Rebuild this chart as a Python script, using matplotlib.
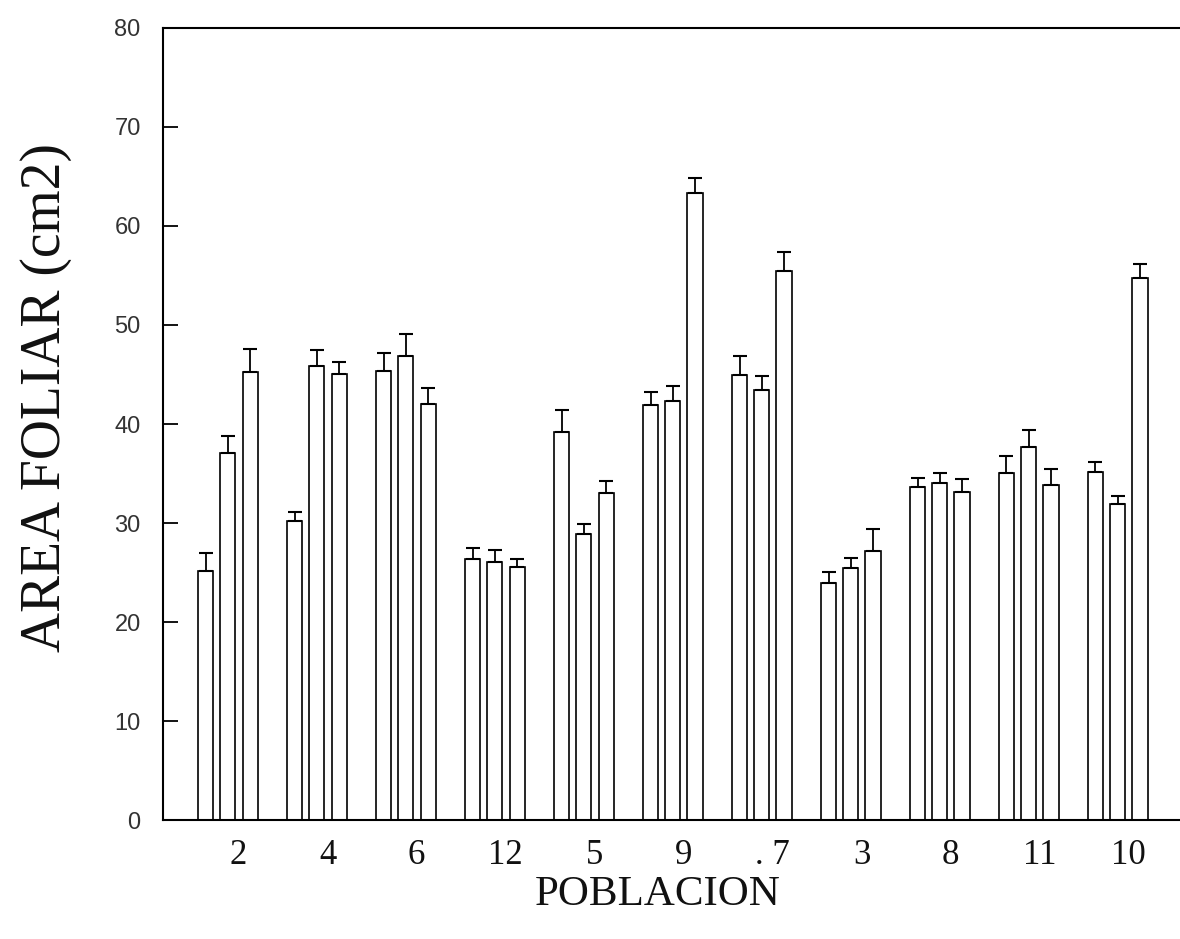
import numpy as np
import matplotlib
matplotlib.use("Agg")
import matplotlib.pyplot as plt

# leaf area per population, three samples each (mean and upper error)
poblacion = ["2", "4", "6", "12", "5", "9", ". 7", "3", "8", "11", "10"]
area_a = [25.2, 30.2, 45.4, 26.4, 39.2, 41.9, 45.0, 23.9, 33.6, 35.1, 35.2]
area_b = [37.1, 45.9, 46.9, 26.1, 28.9, 42.3, 43.4, 25.5, 34.0, 37.7, 31.9]
area_c = [45.3, 45.1, 42.0, 25.6, 33.0, 63.3, 55.5, 27.2, 33.1, 33.8, 54.7]
err_a = [1.8, 0.9, 1.8, 1.1, 2.2, 1.3, 1.9, 1.2, 0.9, 1.7, 1.0]
err_b = [1.7, 1.6, 2.2, 1.2, 1.0, 1.5, 1.4, 1.0, 1.1, 1.7, 0.8]
err_c = [2.3, 1.2, 1.6, 0.8, 1.2, 1.5, 1.9, 2.2, 1.3, 1.7, 1.5]

fig = plt.figure(figsize=(11.8, 9.39), dpi=100)
ax = fig.add_axes([0.1381, 0.1267, 0.8619, 0.8435])

x = np.arange(len(poblacion))
step, width = 0.25, 0.17
for off, vals, errs in [(-step, area_a, err_a), (0, area_b, err_b), (step, area_c, err_c)]:
    ax.bar(x + off, vals, width=width, color="white", edgecolor="black",
           linewidth=1.2, zorder=2)
    ax.errorbar(x + off, vals, yerr=[np.zeros(len(errs)), errs], fmt="none",
                ecolor="black", elinewidth=1.3, capsize=5, capthick=1.5, zorder=3)

ax.set_xlim(-0.73, 10.70)
ax.set_ylim(0, 80)
ax.set_yticks(range(0, 90, 10))
ax.set_xticks(x + 0.12)
ax.set_xticklabels(poblacion, fontsize=25, family="Liberation Serif", color="#111111")
ax.tick_params(axis="x", length=0, pad=14)
ax.tick_params(axis="y", direction="in", length=11, width=1.3, pad=16,
               labelsize=17)
for lab in ax.get_yticklabels():
    lab.set_family("Liberation Sans")
    lab.set_color("#333333")

for s in ["left", "bottom", "top"]:
    ax.spines[s].set_linewidth(1.5)
ax.spines["right"].set_visible(False)

ax.set_ylabel("AREA FOLIAR (cm2)", fontsize=40, family="Liberation Serif",
              color="#111111")
ax.yaxis.set_label_coords(-0.089, 0.534)
ax.set_xlabel("POBLACION", fontsize=31, family="Liberation Serif",
              color="#111111")
ax.xaxis.set_label_coords(0.486, -0.07)

fig.savefig("out.png", dpi=100)
